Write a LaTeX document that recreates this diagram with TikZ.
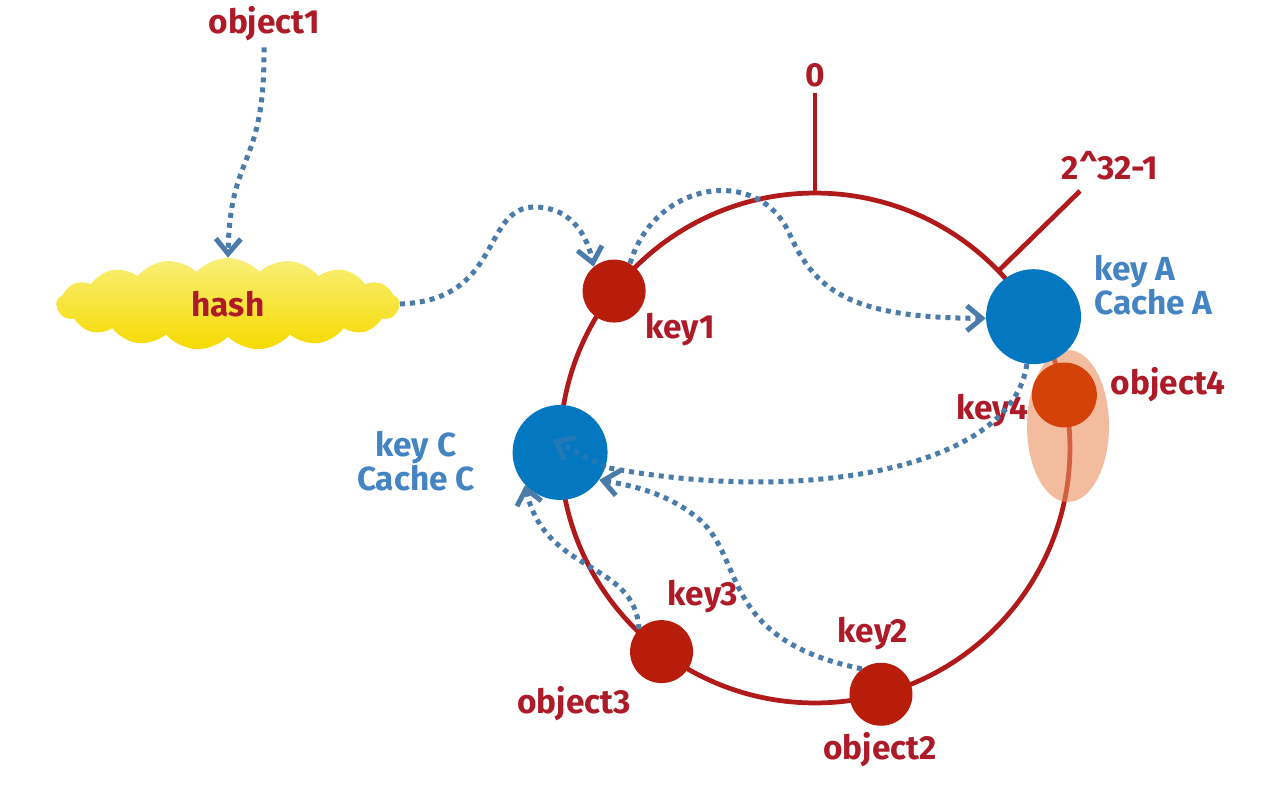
\documentclass[tikz,border=0pt]{standalone}
\usepackage{fontspec}
\setsansfont{Fira Sans}
\usetikzlibrary{arrows.meta,shapes.symbols,shapes.geometric}
\definecolor{ringRed}{HTML}{B01A1A}
\definecolor{keyFill}{HTML}{B81C0A}
\definecolor{cacheFill}{HTML}{0477C1}
\definecolor{objFill}{HTML}{D4420A}
\definecolor{glowFill}{HTML}{ED8F5D}
\definecolor{textRed}{HTML}{AD1A28}
\definecolor{textBlue}{HTML}{4484C2}
\definecolor{arrowBlue}{HTML}{4A7BA9}
\definecolor{hashTop}{HTML}{F9EF78}
\definecolor{hashBottom}{HTML}{F6DA00}

\begin{document}
\begin{tikzpicture}[
  x=0.02cm, y=-0.02cm,
  font=\sffamily\bfseries\fontsize{19}{22}\selectfont,
  ringLine/.style={draw=ringRed, line width=0.095cm},
  keyNode/.style={circle, fill=keyFill, minimum size=1.26cm, inner sep=0pt},
  cacheNode/.style={circle, fill=cacheFill, minimum size=1.9cm, inner sep=0pt},
  objNode/.style={circle, fill=objFill, minimum size=1.3cm, inner sep=0pt},
  glowNode/.style={ellipse, fill=glowFill, fill opacity=0.6, minimum width=1.64cm, minimum height=3.04cm, inner sep=0pt},
  hashCloud/.style={
    cloud, cloud puffs=17, cloud puff arc=95, aspect=4,
    top color=hashTop, bottom color=hashBottom,
    minimum width=6.86cm, minimum height=1.84cm, inner sep=0pt,
    text=textRed
  },
  lblRed/.style={text=textRed},
  lblBlue/.style={text=textBlue, align=center, font=\sffamily\bfseries\fontsize{19}{19}\selectfont},
  arrMap/.style={-{Straight Barb[length=3mm, width=5mm]}, arrowBlue, line width=0.1cm, dash pattern=on 0.1cm off 0.1cm},
  arrFaint/.style={arrMap, arrowBlue!45!cacheFill}
]
  \useasboundingbox (0,0) rectangle (1282,794);

  \node[ringLine, circle, minimum size=10.2cm, inner sep=0pt, outer sep=0pt] (ring) at (815,448) {};
  \node[lblRed] (zero) at (815,75) {0};
  \node[lblRed] (maxval) at (1110,166) {2\textasciicircum32-1};
  \coordinate (maxtick) at (1080,191);
  \draw[ringLine] (ring.north) -- (zero.south);
  \draw[ringLine] (ring.44) -- (maxtick);

  \node[glowNode] (glow) at (1068,426) {};

  \node[hashCloud] (hash) at (228,304) {hash};
  \node[lblRed] (obj1) at (264,24) {object1};

  \node[keyNode] (key1) at (ring.142) {};
  \node[cacheNode] (keyC) at (ring.181) {};
  \node[keyNode] (key3) at (ring.233) {};
  \node[keyNode] (key2) at (ring.285) {};
  \node[cacheNode] (keyA) at (ring.31) {};
  \node[objNode] (obj4) at (ring.12) {};
  \coordinate (k4tip) at (553,440);

  \node[lblRed] (lk1) at (680,330) {key1};
  \node[lblBlue, anchor=west, align=left] (lkA) at (1088,285) {key A\\Cache A};
  \node[lblRed] (lobj4) at (1168,385) {object4};
  \node[lblRed] (lk4) at (992,411) {key4};
  \node[lblBlue] (lkC) at (416,461) {key C\\Cache C};
  \node[lblRed] (lk3) at (703,597) {key3};
  \node[lblRed] (lobj3) at (574,704) {object3};
  \node[lblRed] (lk2) at (873,634) {key2};
  \node[lblRed] (lobj2) at (880,750) {object2};

  \draw[arrMap] (obj1.south) .. controls (265,170) and (230,150) .. (hash.north);
  \draw[arrMap] (hash.east) .. controls (505,300) and (480,205) .. (537,207) .. controls (575,209) and (588,240) .. (key1.130);
  \draw[arrMap] (key1.60) .. controls (655,180) and (760,165) .. (790,235) .. controls (815,290) and (850,318) .. (keyA.182);
  \draw[arrMap, -] (keyA.262) .. controls (1012,470) and (800,505) .. (keyC.-18);
  \draw[arrFaint] (keyC.-18) -- (k4tip);
  \draw[arrMap] (key2.127) .. controls (720,640) and (745,560) .. (700,520) .. controls (670,495) and (640,487) .. (keyC.-35);
  \draw[arrMap] (key3.135) .. controls (635,560) and (545,575) .. (keyC.-137);

\end{tikzpicture}
\end{document}
